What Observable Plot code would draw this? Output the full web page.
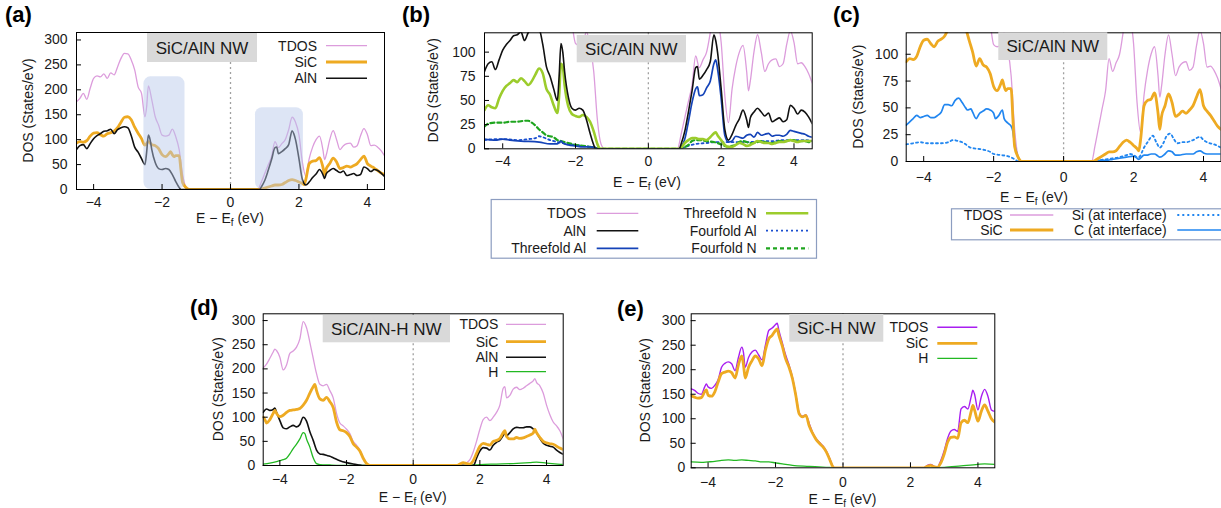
<!DOCTYPE html>
<html><head><meta charset="utf-8">
<script src="https://cdn.jsdelivr.net/npm/d3@7"></script>
<script src="https://cdn.jsdelivr.net/npm/@observablehq/plot@0.6"></script>
<style>
body{margin:0;background:#fff;}
#wrap{position:relative;width:1221px;height:508px;overflow:hidden;background:#fff;font-family:"Liberation Sans",Arial,sans-serif;}
</style></head><body><div id="wrap"></div>
<script>
// ---------- tick values ----------
const energyTicks = [-4, -2, 0, 2, 4];
const dosTicksWide = [0, 50, 100, 150, 200, 250, 300];
const dosTicksNarrow = [0, 25, 50, 75, 100];

// ---------- SiC/AlN NW : [E - Ef (eV), DOS (States/eV)] ----------
const tdosSiCAlN = [[-4.5,176],[-4.4,183],[-4.3,193],[-4.2,181],[-4.1,203],[-4.0,223],[-3.9,228],[-3.8,226],[-3.7,232],[-3.6,223],[-3.5,234],[-3.4,230],[-3.3,246],[-3.2,263],[-3.1,273],[-3.0,272],[-2.9,260],[-2.8,240],[-2.7,206],[-2.6,193],[-2.5,146],[-2.45,166],[-2.4,208],[-2.3,180],[-2.2,146],[-2.1,129],[-2.0,109],[-1.9,107],[-1.8,109],[-1.7,121],[-1.6,106],[-1.5,80],[-1.4,30],[-1.3,5],[-1.2,0],[0.8,0],[0.9,15],[1.0,32],[1.1,49],[1.2,66],[1.3,96],[1.4,84],[1.5,92],[1.6,100],[1.7,120],[1.8,145],[1.9,135],[2.0,110],[2.1,55],[2.2,27],[2.3,62],[2.4,85],[2.5,100],[2.6,107],[2.7,80],[2.75,60],[2.8,70],[2.9,100],[3.0,118],[3.1,100],[3.2,80],[3.3,88],[3.4,92],[3.5,93],[3.6,85],[3.7,88],[3.8,108],[3.9,122],[4.0,110],[4.1,88],[4.2,89],[4.3,85],[4.4,78],[4.5,68]];
const sicSiCAlN = [[-4.5,93],[-4.4,96],[-4.3,95],[-4.2,98],[-4.1,107],[-4.0,113],[-3.9,114],[-3.8,110],[-3.7,107],[-3.6,112],[-3.5,114],[-3.4,117],[-3.3,124],[-3.2,135],[-3.1,145],[-3.0,146],[-2.9,140],[-2.8,125],[-2.7,113],[-2.6,102],[-2.5,89],[-2.4,96],[-2.3,90],[-2.2,88],[-2.1,82],[-2.0,70],[-1.9,66],[-1.8,72],[-1.75,76],[-1.7,70],[-1.65,66],[-1.6,68],[-1.5,68],[-1.45,40],[-1.4,14],[-1.3,4],[-1.2,0],[0.8,0],[0.9,1],[1.0,3],[1.1,5],[1.2,7],[1.3,9],[1.4,9],[1.5,10],[1.6,14],[1.7,18],[1.8,20],[1.9,18],[2.0,15],[2.1,12],[2.15,10],[2.2,20],[2.3,52],[2.4,57],[2.5,58],[2.6,64],[2.7,45],[2.75,30],[2.8,42],[2.9,52],[3.0,63],[3.1,55],[3.2,42],[3.3,44],[3.4,47],[3.5,45],[3.6,48],[3.7,52],[3.8,60],[3.9,67],[4.0,52],[4.1,47],[4.2,43],[4.3,38],[4.4,33],[4.5,30]];
const alnSiCAlN = [[-4.5,80],[-4.4,88],[-4.3,90],[-4.2,82],[-4.1,92],[-4.0,102],[-3.9,108],[-3.8,112],[-3.7,117],[-3.6,118],[-3.5,121],[-3.4,112],[-3.3,120],[-3.2,124],[-3.1,126],[-3.0,124],[-2.9,108],[-2.8,85],[-2.7,75],[-2.6,62],[-2.5,50],[-2.45,75],[-2.4,109],[-2.35,100],[-2.3,80],[-2.2,54],[-2.1,42],[-2.0,40],[-1.9,42],[-1.8,40],[-1.7,30],[-1.6,16],[-1.5,4],[-1.45,0],[0.85,0],[0.9,5],[1.0,18],[1.1,38],[1.2,60],[1.3,84],[1.35,85],[1.4,72],[1.5,76],[1.6,82],[1.7,90],[1.8,118],[1.85,112],[1.9,100],[2.0,62],[2.1,20],[2.2,9],[2.3,15],[2.4,24],[2.5,31],[2.6,40],[2.7,30],[2.75,22],[2.8,32],[2.9,38],[3.0,42],[3.1,38],[3.2,34],[3.3,37],[3.4,28],[3.5,30],[3.6,32],[3.7,28],[3.8,30],[3.9,45],[4.0,42],[4.1,36],[4.2,40],[4.3,38],[4.4,33],[4.5,26]];
const threefoldAl = [[-4.5,10],[-4.2,9],[-4.0,10],[-3.8,9],[-3.5,8],[-3.0,7],[-2.7,5],[-2.5,5],[-2.4,8],[-2.35,6],[-2.2,4],[-2.0,3],[-1.8,2],[-1.6,2],[-1.45,1],[-1.4,0],[0.85,0],[0.9,2],[1.0,10],[1.1,28],[1.2,48],[1.3,62],[1.35,64],[1.4,55],[1.5,56],[1.6,63],[1.7,70],[1.8,88],[1.85,92],[1.9,83],[2.0,52],[2.1,14],[2.2,7],[2.3,8],[2.4,13],[2.5,12],[2.6,11],[2.7,14],[2.8,15],[2.9,12],[3.0,17],[3.1,14],[3.2,15],[3.3,16],[3.4,13],[3.5,14],[3.6,14],[3.7,13],[3.8,15],[3.9,19],[4.0,18],[4.1,17],[4.2,16],[4.3,15],[4.4,13],[4.5,12]];
const threefoldN = [[-4.5,40],[-4.4,45],[-4.3,43],[-4.2,42],[-4.1,52],[-4.0,60],[-3.9,65],[-3.8,68],[-3.7,71],[-3.6,69],[-3.5,73],[-3.4,70],[-3.3,66],[-3.2,70],[-3.1,77],[-3.0,83],[-2.9,78],[-2.8,62],[-2.7,56],[-2.6,45],[-2.5,37],[-2.45,55],[-2.4,88],[-2.35,85],[-2.3,66],[-2.2,44],[-2.1,36],[-2.0,34],[-1.9,33],[-1.8,35],[-1.7,33],[-1.6,28],[-1.5,18],[-1.4,5],[-1.35,1],[-1.3,0],[0.85,0],[0.9,1],[1.0,6],[1.1,9],[1.2,11],[1.3,11],[1.4,10],[1.5,10],[1.6,9],[1.7,12],[1.8,16],[1.85,17],[1.9,14],[2.0,9],[2.1,4],[2.2,2],[2.3,2],[2.4,4],[2.5,6],[2.6,5],[2.7,3],[2.8,4],[2.9,6],[3.0,8],[3.1,7],[3.2,6],[3.3,6],[3.4,5],[3.5,6],[3.6,7],[3.7,7],[3.8,8],[3.9,9],[4.0,8],[4.1,7],[4.2,8],[4.3,8],[4.4,8],[4.5,8]];
const fourfoldAl = [[-4.5,9],[-4.2,10],[-3.9,10],[-3.6,9],[-3.3,10],[-3.1,11],[-3.0,13],[-2.9,12],[-2.7,9],[-2.5,7],[-2.2,5],[-2.0,4],[-1.8,3],[-1.6,2],[-1.45,1],[-1.35,0],[0.85,0],[0.95,1],[1.1,3],[1.3,5],[1.6,6],[1.9,7],[2.2,7],[2.5,7],[2.8,7],[3.1,8],[3.4,8],[3.7,9],[4.0,9],[4.3,9],[4.5,8]];
const fourfoldN = [[-4.5,23],[-4.4,26],[-4.2,27],[-4.0,27],[-3.8,28],[-3.6,28],[-3.4,29],[-3.3,29],[-3.2,27],[-3.1,24],[-3.0,20],[-2.9,17],[-2.8,14],[-2.7,13],[-2.6,12],[-2.5,9],[-2.4,8],[-2.2,6],[-2.0,4],[-1.8,3],[-1.6,2],[-1.45,1],[-1.35,0],[0.85,0],[0.95,1],[1.1,4],[1.2,8],[1.3,9],[1.4,9],[1.6,8],[1.8,7],[1.9,6],[2.1,3],[2.2,2],[2.3,3],[2.4,4],[2.5,7],[2.6,8],[2.7,7],[2.8,6],[2.9,6],[3.0,7],[3.1,8],[3.2,7],[3.3,6],[3.4,6],[3.5,7],[3.6,8],[3.7,8],[3.8,8],[3.9,9],[4.0,9],[4.1,8],[4.2,8],[4.3,8],[4.4,7],[4.5,7]];
const siInterface = [[-4.5,16],[-4.3,17],[-4.1,18],[-3.9,17],[-3.7,17],[-3.5,17],[-3.3,18],[-3.15,20],[-3.0,19],[-2.9,18],[-2.8,16],[-2.67,13],[-2.5,12],[-2.3,11],[-2.1,9],[-2.0,7],[-1.8,6],[-1.6,5],[-1.45,3],[-1.35,1],[-1.3,0],[0.85,0],[1.0,1],[1.2,2],[1.4,3],[1.6,4],[1.8,6],[1.9,7],[2.0,6],[2.1,4],[2.15,4],[2.3,13],[2.4,18],[2.55,24],[2.65,18],[2.75,13],[2.85,17],[2.95,24],[3.05,26],[3.15,21],[3.25,17],[3.4,18],[3.5,18],[3.7,20],[3.9,23],[4.0,20],[4.1,18],[4.3,16],[4.5,13]];
const cInterface = [[-4.5,34],[-4.4,37],[-4.3,40],[-4.2,43],[-4.1,41],[-4.0,42],[-3.9,43],[-3.8,41],[-3.7,41],[-3.6,43],[-3.5,46],[-3.4,53],[-3.3,53],[-3.2,52],[-3.1,57],[-3.0,59],[-2.9,55],[-2.8,50],[-2.75,48],[-2.65,49],[-2.6,46],[-2.5,40],[-2.4,45],[-2.3,47],[-2.2,49],[-2.1,48],[-2.0,45],[-1.95,40],[-1.85,43],[-1.75,48],[-1.7,40],[-1.6,36],[-1.5,33],[-1.45,28],[-1.4,16],[-1.3,4],[-1.25,0],[0.85,0],[1.0,1],[1.2,1],[1.4,2],[1.6,3],[1.8,4],[2.0,5],[2.1,3],[2.15,2],[2.3,6],[2.4,6],[2.5,7],[2.6,7],[2.7,5],[2.75,4],[2.9,7],[3.0,10],[3.1,9],[3.2,6],[3.3,6],[3.5,7],[3.7,7],[3.8,9],[3.9,10],[4.0,8],[4.1,7],[4.3,7],[4.5,7]];
// highlighted energy windows in (a): [E start, E end, DOS top]
const highlightWindows = [[-2.53, -1.33, 226], [0.73, 2.13, 164]];

// ---------- SiC/AlN-H NW ----------
const tdosSiCAlNH = [[-4.5,202],[-4.4,210],[-4.3,222],[-4.2,235],[-4.15,241],[-4.1,238],[-4.0,224],[-3.9,198],[-3.8,208],[-3.7,232],[-3.6,237],[-3.5,245],[-3.4,262],[-3.3,298],[-3.2,285],[-3.1,255],[-3.0,222],[-2.9,190],[-2.8,168],[-2.7,165],[-2.6,168],[-2.5,155],[-2.4,140],[-2.3,108],[-2.2,88],[-2.1,82],[-2.0,75],[-1.9,66],[-1.8,50],[-1.7,42],[-1.6,32],[-1.5,17],[-1.4,5],[-1.3,0],[1.3,0],[1.5,3],[1.6,6],[1.7,12],[1.8,28],[1.9,50],[2.0,75],[2.1,95],[2.2,100],[2.3,93],[2.4,100],[2.5,110],[2.6,125],[2.7,160],[2.75,163],[2.8,140],[2.9,145],[3.0,158],[3.1,162],[3.2,157],[3.3,160],[3.4,165],[3.5,170],[3.6,175],[3.65,180],[3.7,172],[3.8,165],[3.9,150],[4.0,125],[4.1,105],[4.2,90],[4.3,82],[4.4,72],[4.5,55]];
const sicSiCAlNH = [[-4.5,100],[-4.45,95],[-4.4,88],[-4.3,95],[-4.2,108],[-4.15,114],[-4.1,108],[-4.0,101],[-3.9,104],[-3.8,110],[-3.7,114],[-3.6,115],[-3.5,116],[-3.4,118],[-3.3,125],[-3.2,135],[-3.1,150],[-3.0,163],[-2.95,168],[-2.9,155],[-2.8,138],[-2.7,135],[-2.6,141],[-2.5,132],[-2.4,120],[-2.3,90],[-2.2,74],[-2.1,72],[-2.0,68],[-1.9,60],[-1.8,45],[-1.7,38],[-1.6,30],[-1.5,15],[-1.4,4],[-1.3,0],[1.3,0],[1.4,3],[1.5,6],[1.6,4],[1.7,3],[1.8,10],[1.9,25],[2.0,40],[2.1,46],[2.2,44],[2.3,42],[2.4,50],[2.5,52],[2.6,56],[2.7,68],[2.75,72],[2.8,60],[2.9,55],[3.0,55],[3.1,58],[3.2,56],[3.3,57],[3.4,60],[3.5,63],[3.6,67],[3.65,75],[3.7,68],[3.8,58],[3.9,50],[4.0,47],[4.1,45],[4.2,44],[4.3,40],[4.4,36],[4.5,33]];
const alnSiCAlNH = [[-4.5,110],[-4.4,117],[-4.3,114],[-4.2,116],[-4.15,119],[-4.1,110],[-4.0,93],[-3.9,78],[-3.8,76],[-3.7,80],[-3.6,83],[-3.5,80],[-3.4,85],[-3.3,100],[-3.2,92],[-3.1,70],[-3.0,52],[-2.9,32],[-2.8,24],[-2.7,23],[-2.6,21],[-2.5,19],[-2.4,16],[-2.2,10],[-2.0,6],[-1.8,3],[-1.6,1],[-1.5,0],[1.8,0],[1.85,5],[1.9,15],[2.0,30],[2.1,37],[2.2,36],[2.3,32],[2.4,42],[2.5,48],[2.6,52],[2.7,62],[2.75,68],[2.8,62],[2.9,68],[3.0,76],[3.1,79],[3.2,78],[3.3,78],[3.4,80],[3.5,80],[3.6,76],[3.7,68],[3.8,56],[3.9,46],[4.0,42],[4.1,40],[4.2,38],[4.3,32],[4.4,27],[4.5,23]];
const hSiCAlNH = [[-4.5,3],[-4.3,5],[-4.1,8],[-4.0,10],[-3.9,12],[-3.8,15],[-3.7,24],[-3.6,35],[-3.5,44],[-3.4,55],[-3.3,68],[-3.25,66],[-3.2,55],[-3.1,38],[-3.0,16],[-2.9,4],[-2.8,2],[-2.5,1],[-2.0,0],[1.5,0],[2.0,2],[2.5,3],[3.0,4],[3.5,6],[3.7,7],[4.0,5],[4.5,2]];

// ---------- SiC-H NW ----------
const tdosSiCH = [[-4.5,161],[-4.4,158],[-4.3,152],[-4.2,150],[-4.1,165],[-4.05,171],[-4.0,165],[-3.9,162],[-3.8,168],[-3.7,180],[-3.6,205],[-3.5,213],[-3.4,216],[-3.3,212],[-3.2,198],[-3.1,225],[-3.0,246],[-2.95,235],[-2.9,205],[-2.8,225],[-2.7,236],[-2.6,240],[-2.5,230],[-2.4,220],[-2.3,250],[-2.2,280],[-2.1,285],[-2.0,292],[-1.95,295],[-1.9,280],[-1.8,255],[-1.7,230],[-1.6,210],[-1.5,185],[-1.4,150],[-1.3,112],[-1.2,105],[-1.1,108],[-1.0,90],[-0.9,72],[-0.8,60],[-0.7,52],[-0.6,45],[-0.5,35],[-0.4,20],[-0.3,3],[-0.25,0],[2.4,0],[2.5,5],[2.6,7],[2.7,3],[2.8,2],[2.9,15],[3.0,35],[3.1,60],[3.2,75],[3.3,78],[3.4,74],[3.5,120],[3.6,125],[3.7,120],[3.8,145],[3.85,158],[3.9,150],[4.0,118],[4.1,145],[4.2,160],[4.3,145],[4.4,118],[4.5,115]];
const sicSiCH = [[-4.5,147],[-4.4,144],[-4.3,142],[-4.2,143],[-4.1,155],[-4.05,159],[-4.0,148],[-3.9,146],[-3.8,155],[-3.7,175],[-3.6,192],[-3.5,195],[-3.4,197],[-3.3,194],[-3.2,183],[-3.1,210],[-3.0,228],[-2.95,210],[-2.9,183],[-2.8,205],[-2.7,218],[-2.6,228],[-2.5,222],[-2.4,208],[-2.3,240],[-2.2,263],[-2.1,270],[-2.0,280],[-1.95,283],[-1.9,270],[-1.8,248],[-1.7,222],[-1.6,205],[-1.5,182],[-1.4,148],[-1.3,110],[-1.2,104],[-1.1,107],[-1.0,85],[-0.9,70],[-0.8,58],[-0.7,50],[-0.6,43],[-0.5,33],[-0.4,18],[-0.3,2],[-0.25,0],[2.4,0],[2.5,3],[2.6,5],[2.7,2],[2.8,1],[2.9,10],[3.0,28],[3.1,52],[3.2,62],[3.3,63],[3.4,60],[3.5,92],[3.6,97],[3.7,92],[3.8,115],[3.85,127],[3.9,118],[4.0,95],[4.1,115],[4.2,128],[4.3,115],[4.4,100],[4.5,93]];
const hSiCH = [[-4.5,12],[-4.2,11],[-4.0,12],[-3.8,13],[-3.6,15],[-3.4,16],[-3.2,15],[-3.0,16],[-2.8,15],[-2.6,14],[-2.4,12],[-2.2,12],[-2.0,10],[-1.8,8],[-1.5,5],[-1.0,3],[-0.5,1],[-0.2,0],[2.5,0],[3.0,1],[3.5,4],[4.0,7],[4.2,8],[4.5,7]];

// ---------- styles ----------
const ST = {
  tdos:   {color: "#dc9cdc", width: 1.3},
  tdosE:  {color: "#a81ef0", width: 1.4},
  sic:    {color: "#eeaa22", width: 2.8},
  aln:    {color: "#111111", width: 1.6},
  h:      {color: "#22b822", width: 1.3},
  t3Al:   {color: "#1443b8", width: 1.7},
  t3N:    {color: "#9ccc2c", width: 2.6},
  f4Al:   {color: "#1a4fd0", width: 1.8, dash: "2,3"},
  f4N:    {color: "#1fa51f", width: 2.2, dash: "4,3"},
  siI:    {color: "#2186f0", width: 1.8, dash: "2,3"},
  cI:     {color: "#2186f0", width: 1.7}
};
const W = 1221, H = 508;
const FONT = "'Liberation Sans', Arial, sans-serif";
const wrap = d3.select("#wrap");

function makePanel(cfg) {
  const [x0, x1, y0, y1] = cfg.frame;
  const marks = [
    Plot.ruleX([0], {stroke: "#a0a0a0", strokeWidth: 1.3, strokeDasharray: "2,3"})
  ];
  for (const s of cfg.series) {
    marks.push(Plot.line(s.data, {x: d => d[0], y: d => d[1], stroke: s.st.color, strokeWidth: s.st.width,
      strokeDasharray: s.st.dash, curve: "monotone-x", clip: true}));
  }
  if (cfg.windows) {
    marks.push(Plot.rect(cfg.windows, {x1: d => d[0], x2: d => d[1], y1: 0, y2: d => d[2],
      fill: "#b8c8ea", fillOpacity: 0.48, rx: 7}));
  }
  marks.push(
    Plot.tickX(energyTicks, {x: d => d, insetTop: (y1 - y0) - 5, stroke: "#000"}),
    Plot.tickY(cfg.yTicks, {y: d => d, insetRight: (x1 - x0) - 5, stroke: "#000"}),
    Plot.axisX({ticks: energyTicks, tickSize: 0, tickPadding: cfg.xPad, label: null, fontSize: 14}),
    Plot.axisY({ticks: cfg.yTicks, tickSize: 0, tickPadding: cfg.yPad, label: null, fontSize: 14}),
    Plot.frame({stroke: "#000", strokeWidth: 1})
  );
  const svgNode = Plot.plot({
    width: W, height: H,
    marginLeft: x0, marginRight: W - x1, marginTop: y0, marginBottom: H - y1,
    x: {domain: [-4.5, 4.5]},
    y: {domain: cfg.yDomain},
    style: `position:absolute;left:0;top:0;background:transparent;font-family:${FONT};font-size:14px;color:#1a1a1a;overflow:hidden`,
    marks
  });
  wrap.node().appendChild(svgNode);
  const svg = d3.select(svgNode);
  const g = svg.append("g").attr("font-family", FONT).attr("fill", "#1a1a1a").attr("text-anchor", "start");

  // title box
  const [bx0, bx1, by0, by1] = cfg.titleBox;
  g.append("rect").attr("x", bx0).attr("y", by0).attr("width", bx1 - bx0).attr("height", by1 - by0).attr("fill", "#d9d9d9");
  g.append("text").attr("x", (bx0 + bx1) / 2).attr("y", (by0 + by1) / 2).attr("dy", "0.36em")
    .attr("text-anchor", "middle").attr("font-size", 17).text(cfg.title);

  // panel letter
  g.append("text").attr("x", cfg.letter[0]).attr("y", cfg.letter[1]).attr("font-size", 22)
    .attr("text-anchor", "start").attr("font-weight", "bold").attr("fill", "#000").text(cfg.letterText);

  // y label
  g.append("text").attr("transform", `translate(${cfg.yLab},${(y0 + y1) / 2}) rotate(-90)`)
    .attr("text-anchor", "middle").attr("dy", "0.36em").attr("font-size", 14).text("DOS (States/eV)");

  // x label with subscript
  const xl = g.append("text").attr("x", cfg.xLab[0]).attr("y", cfg.xLab[1]).attr("text-anchor", "middle").attr("font-size", 14);
  xl.append("tspan").text("E \u2212 E");
  xl.append("tspan").attr("font-size", 10).attr("dy", 3).text("f");
  xl.append("tspan").attr("dy", -3).text(" (eV)");

  // legend
  if (cfg.legendBox) {
    const [lx0, lx1, ly0, ly1] = cfg.legendBox;
    g.append("rect").attr("x", lx0 + 0.5).attr("y", ly0 + 0.5).attr("width", lx1 - lx0).attr("height", ly1 - ly0)
      .attr("fill", "#fff").attr("stroke", "#8c9dc0").attr("stroke-width", 1.2);
  }
  for (const item of cfg.legend) {
    const [tx, lxa, lxb, ly] = item.pos;
    g.append("text").attr("x", tx).attr("y", ly).attr("dy", "0.36em").attr("text-anchor", "end")
      .attr("font-size", 14).text(item.label);
    g.append("line").attr("x1", lxa).attr("x2", lxb).attr("y1", ly).attr("y2", ly)
      .attr("stroke", item.st.color).attr("stroke-width", item.st.width)
      .attr("stroke-dasharray", item.st.dash || null);
  }
}

// (a)
makePanel({
  frame: [76, 384, 32, 189], yDomain: [0, 315], yTicks: dosTicksWide, xPad: 8, yPad: 9,
  series: [{data: tdosSiCAlN, st: ST.tdos}, {data: sicSiCAlN, st: ST.sic}, {data: alnSiCAlN, st: ST.aln}],
  windows: highlightWindows,
  titleBox: [147, 257, 33, 62], title: "SiC/AlN NW",
  letter: [5, 22], letterText: "(a)", yLab: 28, xLab: [230, 223],
  legend: [
    {label: "TDOS", st: ST.tdos, pos: [317, 326, 367, 45.7]},
    {label: "SiC", st: ST.sic, pos: [317, 326, 367, 62]},
    {label: "AlN", st: ST.aln, pos: [317, 326, 367, 78.3]}
  ]
});
// (b)
makePanel({
  frame: [484, 811.7, 32.3, 148.3], yDomain: [0, 120], yTicks: dosTicksNarrow, xPad: 7.5, yPad: 9,
  series: [{data: tdosSiCAlN, st: ST.tdos}, {data: fourfoldAl, st: ST.f4Al}, {data: fourfoldN, st: ST.f4N},
           {data: threefoldAl, st: ST.t3Al}, {data: threefoldN, st: ST.t3N}, {data: alnSiCAlN, st: ST.aln}],
  titleBox: [576.7, 686, 35, 62.3], title: "SiC/AlN NW",
  letter: [402, 22], letterText: "(b)", yLab: 433, xLab: [647, 187],
  legendBox: [490.7, 816, 199, 257.7],
  legend: [
    {label: "TDOS", st: ST.tdos, pos: [586, 596.7, 638.3, 213.3]},
    {label: "AlN", st: ST.aln, pos: [586, 596.7, 638.3, 230.7]},
    {label: "Threefold Al", st: ST.t3Al, pos: [586, 596.7, 638.3, 248.3]},
    {label: "Threefold N", st: ST.t3N, pos: [756.7, 766, 808.3, 213.3]},
    {label: "Fourfold Al", st: ST.f4Al, pos: [756.7, 766, 808.3, 230.7]},
    {label: "Fourfold N", st: ST.f4N, pos: [756.7, 766, 808.3, 248.3]}
  ]
});
// (c)
makePanel({
  frame: [905.7, 1220.5, 32.3, 161], yDomain: [0, 120], yTicks: dosTicksNarrow, xPad: 11, yPad: 8,
  series: [{data: tdosSiCAlN, st: ST.tdos}, {data: siInterface, st: ST.siI}, {data: cInterface, st: ST.cI},
           {data: sicSiCAlN, st: ST.sic}],
  titleBox: [998.3, 1107.3, 32.3, 60], title: "SiC/AlN NW",
  letter: [833, 22], letterText: "(c)", yLab: 858, xLab: [1034, 202],
  legendBox: [951, 1235, 208.3, 239.3],
  legend: [
    {label: "TDOS", st: ST.tdos, pos: [1002.7, 1010, 1053.3, 215]},
    {label: "SiC", st: ST.sic, pos: [1002.7, 1010, 1053.3, 230]},
    {label: "Si (at interface)", st: ST.siI, pos: [1166.7, 1177.3, 1222, 215]},
    {label: "C (at interface)", st: ST.cI, pos: [1166.7, 1177.3, 1222, 230]}
  ]
});
// (d)
makePanel({
  frame: [262.7, 562.7, 313.3, 465], yDomain: [0, 314], yTicks: dosTicksWide, xPad: 9, yPad: 8,
  series: [{data: tdosSiCAlNH, st: ST.tdos}, {data: hSiCAlNH, st: ST.h}, {data: alnSiCAlNH, st: ST.aln},
           {data: sicSiCAlNH, st: ST.sic}],
  titleBox: [322.7, 450, 315, 342.3], title: "SiC/AlN-H NW",
  letter: [190, 315], letterText: "(d)", yLab: 218, xLab: [412.7, 502],
  legend: [
    {label: "TDOS", st: ST.tdos, pos: [498.3, 506, 546, 324.3]},
    {label: "SiC", st: ST.sic, pos: [498.3, 506, 546, 341.7]},
    {label: "AlN", st: ST.aln, pos: [498.3, 506, 546, 357.3]},
    {label: "H", st: ST.h, pos: [498.3, 506, 546, 371.7]}
  ]
});
// (e)
makePanel({
  frame: [690.7, 994.3, 313.3, 467.3], yDomain: [0, 314], yTicks: dosTicksWide, xPad: 9.5, yPad: 6,
  series: [{data: tdosSiCH, st: ST.tdosE}, {data: hSiCH, st: ST.h}, {data: sicSiCH, st: ST.sic}],
  titleBox: [789.3, 883.3, 314, 341.7], title: "SiC-H NW",
  letter: [617, 316], letterText: "(e)", yLab: 645, xLab: [842.5, 504],
  legend: [
    {label: "TDOS", st: ST.tdosE, pos: [928.3, 937.3, 977.3, 327.3]},
    {label: "SiC", st: ST.sic, pos: [928.3, 937.3, 977.3, 343.3]},
    {label: "H", st: ST.h, pos: [928.3, 937.3, 977.3, 358.3]}
  ]
});
</script></body></html>
